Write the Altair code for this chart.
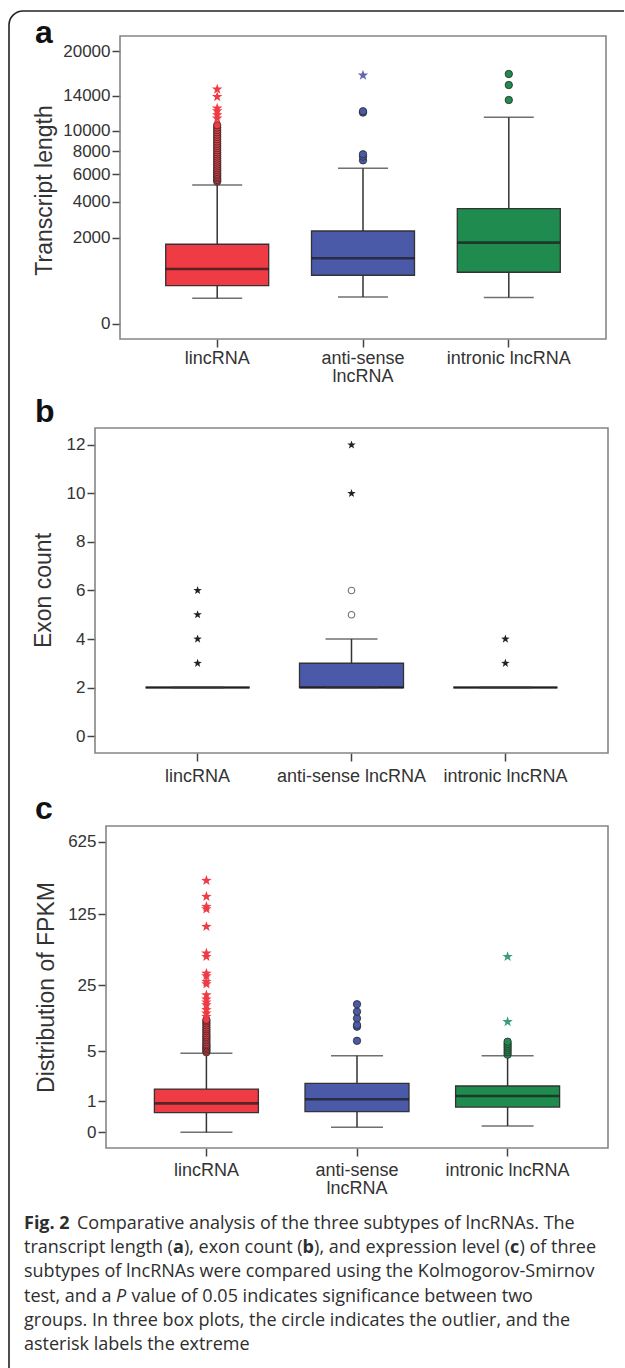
import altair as alt
import pandas as pd

CATS = ["lincRNA", "anti-sense lncRNA", "intronic lncRNA"]
FILL = ["#EE3B44", "#4A5AA8", "#1F8B4E"]
STAR_COL = ["#EE3B44", "#6466B4", "#3A9E78"]
DARK = "#333333"

# ---------------- panel a : transcript length ----------------
A_LOWER = [177, 196, 186]
A_Q1 = [393, 637, 718]
A_MED = [812, 1158, 1775]
A_Q3 = [1705, 2320, 3570]
A_UPPER = [5187, 6510, 11470]
A_CIRC = [
    [5450, 5560, 5680, 5800, 5930, 6060, 6200, 6350, 6500, 6660, 6820, 6990, 7160,
     7340, 7520, 7710, 7900, 8100, 8300, 8510, 8720, 8940, 9160, 9390, 9620, 9860,
     10100, 10350, 10600],
    [7190, 7520, 7730, 12000, 12150],
    [13470, 15330, 16780],
]
A_STAR = [
    [11360, 11730, 12180, 12490, 13870, 14790],
    [16610],
    [],
]
A_TICKS = [0, 2000, 4000, 6000, 8000, 10000, 14000, 20000]
A_DOMAIN = [-61, 22270]

# ---------------- panel b : exon count ----------------
B_LOWER = [2, 2, 2]
B_Q1 = [2, 2, 2]
B_MED = [2, 2, 2]
B_Q3 = [2, 3, 2]
B_UPPER = [2, 4, 2]
B_CIRC = [[], [5, 6], []]
B_STAR = [[3, 4, 5, 6], [10, 12], [3, 4]]
B_TICKS = [0, 2, 4, 6, 8, 10, 12]
B_DOMAIN = [-0.7, 12.7]

# ---------------- panel c : FPKM ----------------
C_LOWER = [0, 0.118, 0.15]
C_Q1 = [0.545, 0.58, 0.75]
C_MED = [0.90, 1.08, 1.24]
C_Q3 = [1.61, 1.96, 1.79]
C_UPPER = [4.77, 4.47, 4.47]
C_CIRC = [
    [4.9, 5.1, 5.3, 5.5, 5.7, 5.9, 6.1, 6.4, 6.7, 7.0, 7.3, 7.6, 8.0, 8.4, 8.8, 9.2,
     9.7, 10.2, 10.7, 11.1],
    [6.6, 9.4, 9.8, 11.5, 13.5, 16.1],
    [4.6, 4.9, 5.2, 5.5, 5.8, 6.1, 6.45],
]
C_STAR = [
    [12.0, 13.0, 14.1, 15.8, 16.9, 18.1, 20.0, 25.8, 27.2, 31.0, 32.9, 48.1, 51.9,
     94.5, 140, 148, 185, 264],
    [],
    [10.6, 48.1],
]
C_TICKS = [0, 1, 5, 25, 125, 625]
C_DOMAIN = [-0.416, 888]

STAR_PATH = ("M0,-1L0.235,-0.324L0.951,-0.309L0.38,0.124L0.588,0.809L0,0.4"
             "L-0.588,0.809L-0.38,0.124L-0.951,-0.309L-0.235,-0.324Z")
FONT = "Liberation Sans"
W = 625
ONE = pd.DataFrame({"k": [0]})


def stats_df(lo, q1, med, q3, up):
    return pd.DataFrame({"cat": CATS, "lower": lo, "q1": q1, "median": med,
                         "q3": q3, "upper": up})


def pts_df(lists):
    rows = [{"cat": c, "value": v} for c, vs in zip(CATS, lists) for v in vs]
    return pd.DataFrame(rows, columns=["cat", "value"])


def outer_frame(H, top=False):
    layers = []
    y0 = 25 if top else 0
    layers.append(alt.Chart(ONE).mark_rule(color="#222", strokeWidth=1.6).encode(
        x=alt.value(9), y=alt.value(y0), y2=alt.value(H)))
    if top:
        layers.append(alt.Chart(ONE).mark_rule(color="#222", strokeWidth=1.6).encode(
            x=alt.value(23), x2=alt.value(624), y=alt.value(11)))
        layers.append(alt.Chart(ONE).mark_arc(
            theta=4.7124, theta2=6.2832, radius=14.8, radius2=13.2, fill="#222").encode(
            x=alt.value(23), y=alt.value(25)))
    return layers


def panel(cfg):
    H = cfg["H"]
    L, R, T, B = cfg["frame"]
    xscale = alt.Scale(domain=CATS, range=[L, R], paddingInner=0.3, paddingOuter=0.3167)
    xaxis_kw = dict(orient="bottom", offset=B - H, labelAngle=0, labelFontSize=18,
                    labelFont=FONT, labelColor=DARK, tickColor="#444", tickSize=8,
                    tickWidth=1.5, domain=False, labelPadding=cfg["lpad"],
                    labelOverlap=False, labelLimit=300, labelLineHeight=18)
    if cfg["split"]:
        xaxis_kw["labelExpr"] = ("datum.value == 'anti-sense lncRNA' ? "
                                 "['anti-sense', 'lncRNA'] : datum.value")
    xaxis = alt.Axis(**xaxis_kw)
    sc_kw = dict(type=cfg["stype"], domain=cfg["domain"], range=[B, T], nice=False, zero=False)
    if cfg["stype"] == "symlog":
        sc_kw["constant"] = 1
    yscale = alt.Scale(**sc_kw)
    tx, ty = cfg["title_pos"]
    yaxis = alt.Axis(orient="left", offset=-L, values=cfg["ticks"], format="d",
                     labelFontSize=17, labelFont=FONT, labelColor=DARK, tickColor="#444",
                     tickSize=8, tickWidth=1.5, domain=False, grid=False, labelPadding=2,
                     labelOverlap=False, title=cfg["title"], titleX=tx - L, titleY=ty,
                     titleFontSize=23, titleFont=FONT, titleFontWeight="normal",
                     titleColor=DARK, titleAngle=270, titleAlign="center",
                     titleBaseline="middle")

    def X():
        return alt.X("cat:N", scale=xscale, axis=xaxis, title=None)

    def Y(f):
        return alt.Y(f + ":Q", scale=yscale, axis=yaxis)

    st = stats_df(*cfg["stats"])
    circ = pts_df(cfg["circ"])
    star = pts_df(cfg["star"])
    mono = cfg["mono"]

    layers = outer_frame(H, cfg.get("top", False))
    layers.append(alt.Chart(ONE).mark_text(
        text=cfg["letter"], fontSize=32, fontWeight="bold", font=FONT, align="left",
        baseline="alphabetic", color="#111").encode(x=alt.value(35), y=alt.value(cfg["letter_y"])))
    layers.append(alt.Chart(ONE).mark_rect(fillOpacity=0, stroke="#858585", strokeWidth=1.6).encode(
        x=alt.value(L), x2=alt.value(R), y=alt.value(T), y2=alt.value(B)))
    base = alt.Chart(st)
    layers.append(base.mark_rule(color=DARK, strokeWidth=1.5).encode(
        x=X(), y=Y("lower"), y2="upper:Q"))
    if mono:
        layers.append(base.mark_bar(size=cfg["bw"], stroke=DARK, strokeWidth=1.3,
                                    fill=FILL[1]).encode(x=X(), y=Y("q1"), y2="q3:Q"))
    else:
        layers.append(base.mark_bar(size=cfg["bw"], stroke=DARK, strokeWidth=1.3).encode(
            x=X(), y=Y("q1"), y2="q3:Q",
            fill=alt.Fill("cat:N", scale=alt.Scale(domain=CATS, range=FILL), legend=None)))
    layers.append(base.mark_tick(size=cfg["bw"], thickness=2.6, color="#1a1a1a").encode(
        x=X(), y=Y("median")))
    layers.append(base.mark_tick(size=cfg["cap"], thickness=1.5, color=DARK).encode(
        x=X(), y=Y("lower")))
    layers.append(base.mark_tick(size=cfg["cap"], thickness=1.5, color=DARK).encode(
        x=X(), y=Y("upper")))
    if mono:
        layers.append(alt.Chart(circ).mark_point(
            shape="circle", filled=False, stroke=DARK, strokeWidth=1.1, size=42).encode(
            x=X(), y=Y("value")))
        layers.append(alt.Chart(star).mark_point(
            shape=STAR_PATH, filled=True, size=cfg["starsize"], fill="#222", strokeWidth=0,
            opacity=1).encode(x=X(), y=Y("value")))
    else:
        layers.append(alt.Chart(circ).mark_point(
            shape="circle", filled=True, stroke="#2a2a2a", strokeWidth=0.8, size=55,
            opacity=1).encode(
            x=X(), y=Y("value"),
            fill=alt.Fill("cat:N", scale=alt.Scale(domain=CATS, range=FILL), legend=None)))
        layers.append(alt.Chart(star).mark_point(
            shape=STAR_PATH, filled=True, size=cfg["starsize"], strokeWidth=0, opacity=1).encode(
            x=X(), y=Y("value"),
            color=alt.Color("cat:N", scale=alt.Scale(domain=CATS, range=STAR_COL), legend=None)))
    return alt.layer(*layers).properties(width=W, height=H)


pa = panel(dict(H=390, frame=(120, 606, 36, 339), lpad=2, split=True, stype="sqrt",
                domain=A_DOMAIN, ticks=A_TICKS, title="Transcript length", title_pos=(44, 190),
                stats=(A_LOWER, A_Q1, A_MED, A_Q3, A_UPPER), circ=A_CIRC, star=A_STAR,
                mono=False, bw=103, cap=50, starsize=120,
                letter="a", letter_y=43, top=True))
pb = panel(dict(H=400, frame=(95, 608, 38, 363), lpad=6, split=False, stype="linear",
                domain=B_DOMAIN, ticks=B_TICKS, title="Exon count", title_pos=(43, 200),
                stats=(B_LOWER, B_Q1, B_MED, B_Q3, B_UPPER), circ=B_CIRC, star=B_STAR,
                mono=True, bw=104, cap=52, starsize=80, letter="b", letter_y=32))
pc = panel(dict(H=410, frame=(106, 608, 36, 358), lpad=5, split=True, stype="symlog",
                domain=C_DOMAIN, ticks=C_TICKS, title="Distribution of FPKM", title_pos=(46, 197),
                stats=(C_LOWER, C_Q1, C_MED, C_Q3, C_UPPER), circ=C_CIRC, star=C_STAR,
                mono=False, bw=104, cap=52, starsize=120, letter="c", letter_y=29))

# ---------------- caption ----------------
CAP_FONT = "Open Sans"
CAP_SIZE = 18
REG = {" ": .26, "(": .297, ")": .297, ",": .245, ".": .266, "-": .32, "a": .556, "b": .613,
       "c": .476, "d": .613, "e": .561, "f": .339, "g": .548, "h": .614, "i": .253, "l": .253,
       "m": .93, "n": .614, "o": .604, "p": .613, "r": .408, "s": .477, "t": .353, "u": .614,
       "v": .501, "w": .778, "x": .524, "y": .502, "0": .572, "5": .572}
BOLD = {"a": .584, "b": .623, "c": .499}


def tw(s, table):
    return sum(table.get(ch, 0.56) for ch in s) * CAP_SIZE


CAPTION = [
    [("Fig. 2", "bold", "normal"), ("Comparative analysis of the three subtypes of lncRNAs. The", "normal", "normal")],
    [("transcript length (", "normal", "normal"), ("a", "bold", "normal"), ("), exon count (", "normal", "normal"),
     ("b", "bold", "normal"), ("), and expression level (", "normal", "normal"), ("c", "bold", "normal"),
     (") of three", "normal", "normal")],
    [("subtypes of lncRNAs were compared using the Kolmogorov-Smirnov", "normal", "normal")],
    [("test, and a ", "normal", "normal"), ("P", "normal", "italic"),
     (" value of 0.05 indicates significance between two", "normal", "normal")],
    [("groups. In three box plots, the circle indicates the outlier, and the", "normal", "normal")],
    [("asterisk labels the extreme", "normal", "normal")],
]
cap_layers = outer_frame(168)
for i, line in enumerate(CAPTION):
    x = 24
    y = 29 + 24.2 * i
    for j, (txt, wt, sty) in enumerate(line):
        if i == 0 and j == 1:
            x = 77
        lead = len(txt) - len(txt.lstrip(" "))
        x += lead * REG[" "] * CAP_SIZE
        body = txt.strip(" ")
        cap_layers.append(alt.Chart(ONE).mark_text(
            text=body, font=CAP_FONT, fontSize=CAP_SIZE, fontWeight=wt, fontStyle=sty,
            align="left", baseline="alphabetic", color="#2e2e2e").encode(
            x=alt.value(x), y=alt.value(y)))
        if wt == "bold":
            x += tw(body, BOLD) + (0.5 if len(body) == 1 else 0)
        elif sty == "italic":
            x += 0.60 * CAP_SIZE
        else:
            x += tw(body, REG)
        x += (len(txt) - len(txt.rstrip(" "))) * REG[" "] * CAP_SIZE
cap = alt.layer(*cap_layers).properties(width=W, height=168)

chart = alt.vconcat(pa, pb, pc, cap, spacing=0, bounds="flush").properties(
    padding=0, background="white").configure_view(strokeWidth=0)

chart.save("out.html", embed_options={"renderer": "svg", "actions": False})
